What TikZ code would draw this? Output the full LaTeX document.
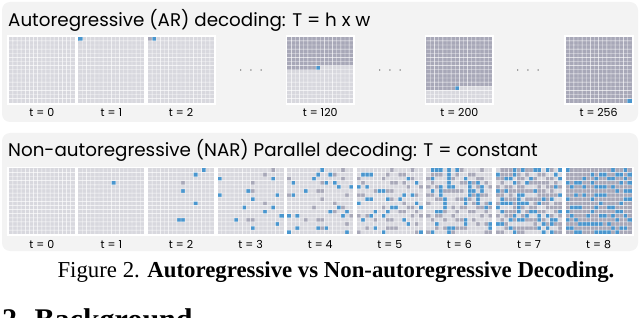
\documentclass[tikz,border=0pt]{standalone}
\usepackage{fontspec}
\setmainfont{Liberation Serif}
\newfontfamily\geofont{Poppins}
\usetikzlibrary{positioning}
\definecolor{panel}{RGB}{243,243,243}
\definecolor{empty}{RGB}{216,216,222}
\definecolor{done}{RGB}{168,168,184}
\definecolor{fresh}{RGB}{74,150,206}
\definecolor{soft}{RGB}{70,70,70}
\tikzset{
  panelbox/.style={fill=panel, rounded corners=8pt},
  title/.style={anchor=base west, inner sep=0pt, font=\geofont\fontsize{18.3}{18}\selectfont},
  steplabel/.style={anchor=base, inner sep=0pt, font=\geofont\fontsize{11}{11}\selectfont},
  ellip/.style={inner sep=0pt, text=soft, font=\fontsize{12}{12}\selectfont},
  frame/.style={fill=white, minimum size=69.6pt, inner sep=0pt, anchor=north west},
  gridline/.style={fill=white},
}

% token grid: #1 left, #2 top, #3 decoded before, #4 decoded after, #5 order (0 raster, 1 scattered)
\newcommand{\tokengrid}[5]{%
  \fill[empty] (#1+1.8,#2+1.8) rectangle ++(66,66);
  \xdef\rankval{1}%
  \foreach \k in {0,...,255}{%
    \ifnum#5=1
      \pgfmathtruncatemacro\cellid{mod(\k+56,256)}%
      \let\rk\rankval
      \xdef\rankval{\the\numexpr\rankval*37-((\rankval*37-128)/257)*257\relax}%
    \else
      \let\cellid\k
      \edef\rk{\the\numexpr\k+1\relax}%
    \fi
    \ifnum\rk>#4 \else
      \ifnum\rk>#3 \def\cellcol{fresh}\else\def\cellcol{done}\fi
      \pgfmathtruncatemacro\row{\cellid/16}%
      \pgfmathtruncatemacro\col{mod(\cellid,16)}%
      \fill[\cellcol] (#1+1.8+\col*4.125,#2+1.8+\row*4.125) rectangle ++(4.125,4.125);
    \fi
  }%
  \foreach \i in {1,...,15}
    \path[gridline] (#1+1.6+\i*4.125,#2+1.8) rectangle ++(0.4,66)
                    (#1+1.8,#2+1.6+\i*4.125) rectangle ++(66,0.4);
}

\begin{document}
\begin{tikzpicture}[x=1pt,y=-1pt]
  \useasboundingbox (0,0) rectangle (640,318);
  \clip (0,0) rectangle (640,318);

  % autoregressive
  \fill[panelbox] (2,2) rectangle (638,122);
  \node[title] (artitle) at (8,27) {Autoregressive (AR) decoding: T = h x w};
  \foreach \t/\x/\before/\after in {0/7/0/0, 1/76.6/0/1, 2/146.2/1/2, 120/285.4/119/120, 200/424.6/199/200, 256/563.8/255/256}{
    \node[frame] (ar\t) at (\x,35) {};
    \tokengrid{\x}{35}{\before}{\after}{0}
    \node[steplabel] (arlbl\t) at (\x+34.8,117) {t = \t};
  }
  \node[ellip] (gap1) at (251,71) {$\cdot$\hspace{7pt}$\cdot$\hspace{7pt}$\cdot$};
  \node[ellip] (gap2) at (390,71) {$\cdot$\hspace{7pt}$\cdot$\hspace{7pt}$\cdot$};
  \node[ellip] (gap3) at (528,71) {$\cdot$\hspace{7pt}$\cdot$\hspace{7pt}$\cdot$};

  % non-autoregressive
  \fill[panelbox] (2,133) rectangle (638,251);
  \node[title] (nartitle) at (8,157) {Non-autoregressive (NAR) Parallel decoding: T = constant};
  \foreach \t/\before/\after in {0/0/0, 1/0/1, 2/1/7, 3/7/20, 4/20/42, 5/42/72, 6/72/117, 7/117/177, 8/177/256}{
    \pgfmathsetmacro\x{7+\t*69.6}
    \node[frame] (nar\t) at (\x,166.5) {};
    \tokengrid{\x}{166.5}{\before}{\after}{1}
    \node[steplabel] (narlbl\t) at (\x+34.8,248) {t = \t};
  }

  \node[anchor=base, inner sep=0pt, font=\fontsize{22.8}{24}\selectfont] (caption) at (336,277)
    {Figure 2. \textbf{Autoregressive vs Non-autoregressive Decoding.}};
  \node[anchor=base west, inner sep=0pt, font=\bfseries\fontsize{30}{32}\selectfont] (section) at (2,329)
    {2. Background};
\end{tikzpicture}
\end{document}
